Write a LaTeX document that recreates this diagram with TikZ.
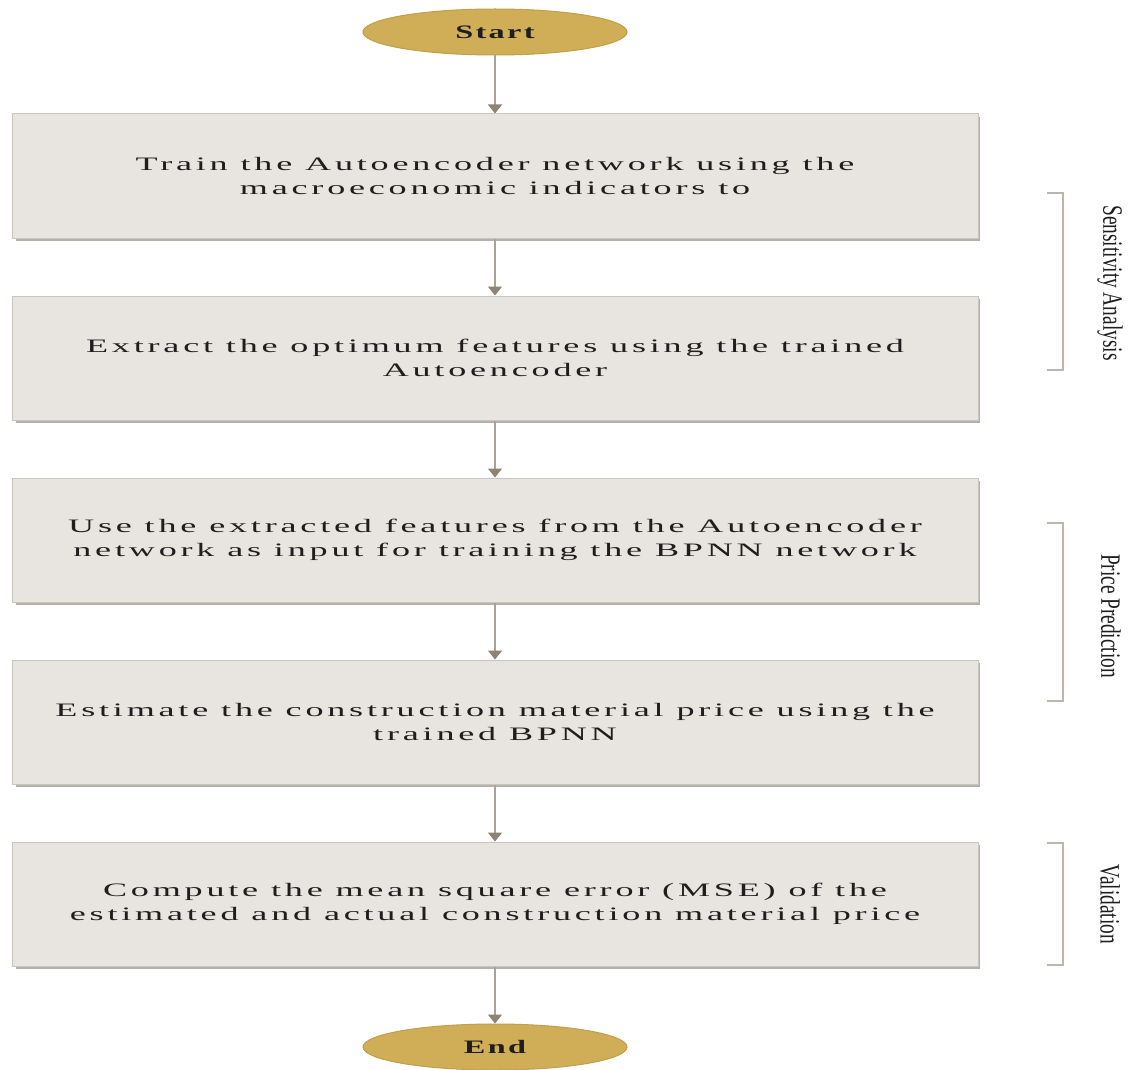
\documentclass[tikz,border=0pt]{standalone}
\usepackage{fontspec}
\usetikzlibrary{shapes.geometric,arrows.meta}
\newfontfamily\boxfont[FakeStretch=1.9,LetterSpace=20]{Liberation Serif}
\newfontfamily\ovalfont[FakeStretch=1.7,LetterSpace=12]{Liberation Serif}
\newfontfamily\sidefont{Liberation Serif}
\definecolor{boxfill}{HTML}{E8E5E0}
\definecolor{boxline}{HTML}{C9C5BF}
\definecolor{boxshadow}{HTML}{B5B0A9}
\definecolor{gold}{HTML}{CFAE57}
\definecolor{goldline}{HTML}{C29F48}
\definecolor{arrgray}{HTML}{A8A29A}
\definecolor{tipgray}{HTML}{8E8474}
\definecolor{brack}{HTML}{BEB6AA}
\definecolor{txt}{HTML}{1E1E1E}
\tikzset{
  stepbox/.style={rectangle, minimum width=966pt, minimum height=124pt, fill=boxfill, draw=boxline, line width=1pt, align=center, text=txt, font=\boxfont\fontsize{19}{24}\selectfont},
  terminal/.style={ellipse, minimum width=264pt, minimum height=46pt, fill=gold, draw=goldline, line width=1pt, text=txt, font=\ovalfont\bfseries\fontsize{19}{22}\selectfont},
  arr/.style={draw=arrgray, line width=1.6pt, -{Triangle[width=14pt,length=9pt,fill=tipgray,color=tipgray]}},
  brk/.style={draw=brack, line width=1.6pt},
  sidelabel/.style={rotate=-90, text=txt, font=\sidefont\fontsize{28}{30}\selectfont}
}
\newcommand{\shadowbox}[3]{% name, center y, text
  \fill[boxshadow] (14+2,#2-62+3) rectangle (978+2,#2+62+2.5);
  \node[stepbox] (#1) at (495,#2) {#3};
}
\begin{document}
\begin{tikzpicture}[x=1pt,y=-1pt]
\useasboundingbox[fill=white] (0,0) rectangle (1130,1070);
\node[terminal] (start) at (495,32) {Start};
\shadowbox{b1}{176}{Train the Autoencoder network using the\\macroeconomic indicators to}
\shadowbox{b2}{358}{Extract the optimum features using the trained\\Autoencoder}
\shadowbox{b3}{540}{Use the extracted features from the Autoencoder\\network as input for training the BPNN network}
\shadowbox{b4}{722}{Estimate the construction material price using the\\trained BPNN}
\shadowbox{b5}{904}{Compute the mean square error (MSE) of the\\estimated and actual construction material price}
\node[terminal] (end) at (495,1047) {End};
\draw[arr] (start) -- (b1);
\draw[arr] (b1) -- (b2);
\draw[arr] (b2) -- (b3);
\draw[arr] (b3) -- (b4);
\draw[arr] (b4) -- (b5);
\draw[arr] (b5) -- (end);
% brackets
\coordinate (s1) at (1047,193); \coordinate (s2) at (1047,370);
\draw[brk] (s1) -| (1063,370) -- (s2);
\coordinate (p1) at (1047,523); \coordinate (p2) at (1047,701);
\draw[brk] (p1) -| (1063,701) -- (p2);
\coordinate (v1) at (1047,843); \coordinate (v2) at (1047,965);
\draw[brk] (v1) -| (1063,965) -- (v2);
\node[sidelabel] (lsa) at (1110,283) {\scalebox{0.69}[1]{Sensitivity Analysis}};
\node[sidelabel] (lpp) at (1111,616) {\scalebox{0.69}[1]{Price Prediction}};
\node[sidelabel] (lv) at (1110,904) {\scalebox{0.69}[1]{Validation}};
\end{tikzpicture}
\end{document}
